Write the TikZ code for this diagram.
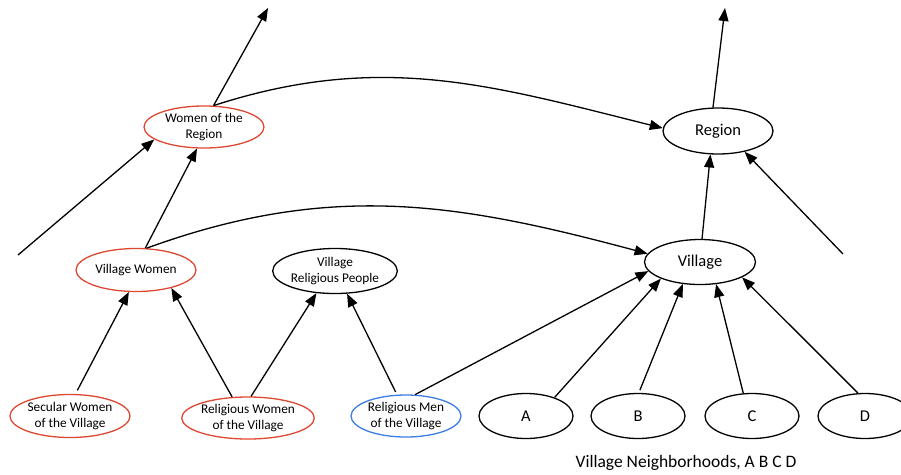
\documentclass[tikz,border=0pt]{standalone}
\usepackage{fontspec}
\setmainfont{Carlito}
\usetikzlibrary{shapes.geometric,arrows.meta}
\definecolor{myred}{RGB}{222,72,50}
\definecolor{myblue}{RGB}{60,125,230}
\begin{document}
\begin{tikzpicture}[x=1pt,y=1pt,
  ell/.style={ellipse,draw=black,line width=1.3pt,inner sep=0pt,align=center,font=\fontsize{13.3}{15.5}\selectfont},
  bigell/.style={ell,font=\fontsize{16.5}{19}\selectfont},
  redell/.style={ell,draw=myred},
  blueell/.style={ell,draw=myblue},
  arr/.style={line width=1.3pt,-{Triangle[length=13pt,width=10pt]}},
  lbl/.style={font=\fontsize{17.5}{20}\selectfont}]
\useasboundingbox (0,0) rectangle (901,-474);
\node[redell,minimum width=120pt,minimum height=42pt] (wr) at (204,-127) {Women of the\\Region};
\node[bigell,minimum width=110pt,minimum height=46pt] (rg) at (718,-131) {Region};
\node[redell,minimum width=120pt,minimum height=43pt] (vw) at (136,-270) {Village Women};
\node[ell,minimum width=113pt,minimum height=45pt] (vrp) at (335,-271) {Village\\Religious People};
\node[bigell,minimum width=111pt,minimum height=45pt] (vil) at (700,-262) {Village};
\node[redell,minimum width=120pt,minimum height=43pt] (sw) at (70,-416) {Secular Women\\of the Village};
\node[redell,minimum width=119pt,minimum height=42pt] (rw) at (248,-418) {Religious Women\\of the Village};
\node[blueell,minimum width=110pt,minimum height=42pt] (rm) at (406,-416) {Religious Men\\of the Village};
\node[bigell,minimum width=94pt,minimum height=45pt] (a) at (526,-416) {A};
\node[bigell,minimum width=94pt,minimum height=45pt] (b) at (638,-416) {B};
\node[bigell,minimum width=94pt,minimum height=45pt] (c) at (752,-416) {C};
\node[bigell,minimum width=94pt,minimum height=45pt] (d) at (865,-416) {D};
\node[lbl] (nb) at (686,-463) {Village Neighborhoods, A B C D};
\coordinate (wrout) at (268,-8);
\coordinate (lfree) at (18,-255);
\coordinate (rgout) at (725,-8);
\coordinate (rfree) at (843,-254);
% arrows
\draw[arr] (wr.66) -- (wrout);
\draw[arr] (wr.66) to[out=18,in=166] (rg.177);
\draw[arr] (lfree) -- (wr.194);
\draw[arr] (vw.67) -- (wr.252);
\draw[arr] (vw.64) to[out=20,in=165] (vil.171);
\draw[arr,shorten <=4pt] (sw.76) -- (vw.252);
\draw[arr] (rw.127) -- (vw.333);
\draw[arr] (rw.82) -- (vrp.230);
\draw[arr,shorten <=3pt] (rm.113) -- (vrp.298);
\draw[arr] (rm.67) -- (vil.190);
\draw[arr] (a.33) -- (vil.203);
\draw[arr,shorten <=3pt] (b.88) -- (vil.232);
\draw[arr] (c.111) -- (vil.306);
\draw[arr] (d.107) -- (vil.340);
\draw[arr] (vil.85) -- (rg.252);
\draw[arr] (rfree) -- (rg.322);
\draw[arr] (rg.102) -- (rgout);
\end{tikzpicture}
\end{document}
